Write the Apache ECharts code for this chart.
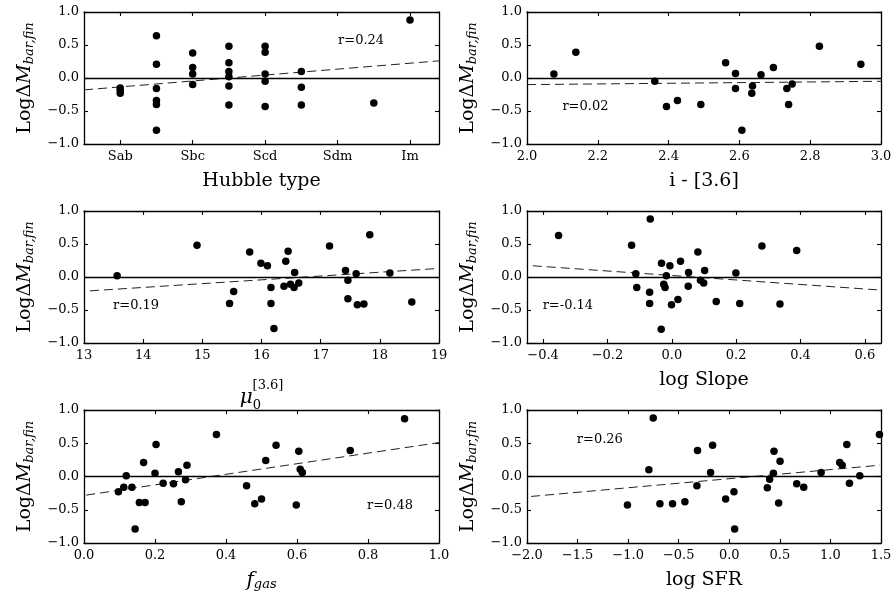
<!DOCTYPE html>
<html><head><meta charset="utf-8">
<script src="https://cdn.jsdelivr.net/npm/echarts@6/dist/echarts.min.js"></script>
<style>html,body{margin:0;padding:0;background:#fff}#c{width:893px;height:597px}</style>
</head><body><div id="c"></div>
<script>
// ---------- DATA ----------
const hubbleTickValues = [2, 4, 6, 8, 10];
const hubbleTickLabels = ['Sab', 'Sbc', 'Scd', 'Sdm', 'Im'];
const hubbleX = [2,2,2, 3,3,3,3,3,3, 4,4,4,4, 5,5,5,5,5,5, 6,6,6,6,6, 7,7,7, 9, 10];
const hubbleY = [-0.15,-0.19,-0.23, 0.64,0.21,-0.16,-0.34,-0.40,-0.79, 0.38,0.16,0.06,-0.10,
                 0.48,0.23,0.10,0.02,-0.12,-0.41, 0.48,0.39,0.06,-0.05,-0.43, 0.10,-0.14,-0.41, -0.38, 0.88];
const hubbleFitX = [1, 10.8];
const hubbleFitY = [-0.18, 0.26];

const colorX = [2.076,2.138,2.361,2.394,2.425,2.491,2.561,2.589,2.589,2.607,2.637,2.635,2.661,2.696,2.734,2.749,2.739,2.826,2.943];
const colorY = [0.06,0.39,-0.05,-0.43,-0.34,-0.40,0.23,0.07,-0.16,-0.79,-0.12,-0.23,0.05,0.16,-0.16,-0.09,-0.40,0.48,0.21];
const colorFitX = [2.0, 3.0];
const colorFitY = [-0.10, -0.05];

const muX = [13.56,14.91,15.46,15.53,15.80,15.99,16.10,16.16,16.16,16.21,16.38,16.41,16.45,16.49,16.55,16.56,16.63,17.15,17.42,17.46,17.46,17.60,17.62,17.73,17.83,18.17,18.54];
const muY = [0.02,0.48,-0.40,-0.22,0.38,0.21,0.17,-0.16,-0.40,-0.78,-0.14,0.24,0.39,-0.11,-0.16,0.07,-0.09,0.47,0.10,-0.33,-0.05,0.05,-0.42,-0.41,0.64,0.06,-0.38];
const muFitX = [13.1, 19.0];
const muFitY = [-0.21, 0.13];

const slopeX = [-0.352,-0.125,-0.067,-0.112,-0.109,-0.069,-0.069,-0.032,-0.033,-0.025,-0.021,-0.017,-0.006,-0.001,0.019,0.027,0.052,0.051,0.081,0.089,0.099,0.102,0.138,0.199,0.211,0.280,0.336,0.388];
const slopeY = [0.63,0.48,0.88,0.05,-0.16,-0.23,-0.40,0.21,-0.79,-0.11,-0.16,0.02,0.17,-0.42,-0.34,0.24,0.07,-0.14,0.38,-0.05,-0.09,0.10,-0.37,0.06,-0.40,0.47,-0.41,0.40];
const slopeFitX = [-0.432, 0.655];
const slopeFitY = [0.17, -0.20];
const slopeTicks = [-0.4, -0.2, 0.0, 0.2, 0.4, 0.6];

const fgasX = [0.097,0.112,0.119,0.135,0.144,0.156,0.168,0.172,0.200,0.203,0.223,0.252,0.266,0.274,0.286,0.290,0.373,0.458,0.481,0.500,0.512,0.541,0.598,0.605,0.609,0.615,0.750,0.903];
const fgasY = [-0.23,-0.16,0.01,-0.16,-0.79,-0.39,0.21,-0.39,0.05,0.48,-0.10,-0.11,0.07,-0.38,-0.05,0.17,0.63,-0.14,-0.41,-0.34,0.24,0.47,-0.43,0.38,0.11,0.06,0.39,0.87];
const fgasFitX = [0.006, 1.0];
const fgasFitY = [-0.28, 0.51];

const sfrX = [-1.007,-0.795,-0.752,-0.686,-0.561,-0.439,-0.320,-0.314,-0.185,-0.165,-0.036,0.046,0.053,0.376,0.399,0.436,0.442,0.488,0.502,0.667,0.736,0.908,1.092,1.116,1.162,1.188,1.290,1.485];
const sfrY = [-0.43,0.10,0.88,-0.41,-0.41,-0.38,-0.14,0.39,0.06,0.47,-0.34,-0.23,-0.79,-0.17,-0.04,0.05,0.38,-0.40,0.23,-0.11,-0.16,0.06,0.21,0.17,0.48,-0.10,0.01,0.63];
const sfrFitX = [-1.96, 1.49];
const sfrFitY = [-0.30, 0.17];

const rLabels = ['r=0.24', 'r=0.02', 'r=0.19', 'r=-0.14', 'r=0.48', 'r=0.26'];
const rPosX = [8.65, 2.165, 13.88, -0.323, 0.862, -1.28];
const rPosY = [0.56, -0.44, -0.44, -0.44, -0.44, 0.56];

const yTickMin = -1, yTickMax = 1, yTickStep = 0.5;

// ---------- BUILD ----------
const FONT = 'DejaVu Serif';
const zip = (a, b) => a.map((v, i) => [v, b[i]]);
const minus = s => String(s).replace('-', '\u2212');

const grids = [
  {left: 84, top: 12, width: 355, height: 132},
  {left: 527, top: 12, width: 354, height: 132},
  {left: 84, top: 211, width: 355, height: 132},
  {left: 527, top: 211, width: 354, height: 132},
  {left: 84, top: 410, width: 355, height: 133},
  {left: 527, top: 410, width: 354, height: 133}
];

const nameRich = {
  mu: {fontFamily: FONT, fontStyle: 'italic', fontSize: 20, lineHeight: 12, verticalAlign: 'top', color: '#000'},
  sub0: {fontFamily: FONT, fontSize: 13, lineHeight: 24, verticalAlign: 'bottom', color: '#000'},
  sup: {fontFamily: FONT, fontSize: 13, lineHeight: 4, color: '#000'},
  sp1: {width: 13, lineHeight: 4},
  sp2: {width: 22, lineHeight: 12},
  f: {fontFamily: FONT, fontStyle: 'italic', fontSize: 20, lineHeight: 20, verticalAlign: 'bottom', color: '#000'},
  sub: {fontFamily: FONT, fontStyle: 'italic', fontSize: 13, lineHeight: 13, verticalAlign: 'bottom', color: '#000'}
};

const xCfg = [
  {min: 1, max: 10.8, custom: hubbleTickValues, fmt: v => hubbleTickLabels[hubbleTickValues.indexOf(v)], name: 'Hubble type'},
  {min: 2, max: 3, interval: 0.2, fmt: v => v.toFixed(1), name: 'i - [3.6]'},
  {min: 13, max: 19, interval: 1, fmt: v => String(v), name: '{sp1|}{sup|[3.6]}\n{mu|\u03bc}{sub0|0}{sp2|}', gap: 41},
  {min: -0.45, max: 0.65, custom: slopeTicks, fmt: v => minus(v.toFixed(1)), name: 'log Slope'},
  {min: 0, max: 1, interval: 0.2, fmt: v => v.toFixed(1), name: '{f|f}{sub|gas}', gap: 28},
  {min: -2, max: 1.5, interval: 0.5, fmt: v => minus(v.toFixed(1)), name: 'log SFR'}
];

const panels = [
  [hubbleX, hubbleY, hubbleFitX, hubbleFitY],
  [colorX, colorY, colorFitX, colorFitY],
  [muX, muY, muFitX, muFitY],
  [slopeX, slopeY, slopeFitX, slopeFitY],
  [fgasX, fgasY, fgasFitX, fgasFitY],
  [sfrX, sfrY, sfrFitX, sfrFitY]
];

const axLine = {show: true, onZero: false, lineStyle: {color: '#000', width: 1.3}};
const tick = {show: true, inside: true, length: 4, lineStyle: {color: '#000', width: 1.1}};
const lblBase = {fontFamily: FONT, fontSize: 13, color: '#000'};

const xAxis = [], yAxis = [], series = [];
panels.forEach((p, i) => {
  const c = xCfg[i];
  const common = {type: 'value', gridIndex: i, min: c.min, max: c.max, splitLine: {show: false}};
  if (c.interval) common.interval = c.interval;
  const bottomTick = Object.assign({}, tick);
  const bottomLbl = Object.assign({}, lblBase, {margin: 6, formatter: c.fmt, showMinLabel: true, showMaxLabel: true, hideOverlap: false});
  if (c.custom) { bottomTick.customValues = c.custom; bottomLbl.customValues = c.custom; }
  xAxis.push(Object.assign({}, common, {
    position: 'bottom', axisLine: axLine, axisTick: bottomTick, axisLabel: bottomLbl,
    name: c.name, nameLocation: 'middle', nameGap: c.gap || 28,
    nameTextStyle: {fontFamily: FONT, fontSize: 19, color: '#000', rich: nameRich}
  }));
  const topTick = Object.assign({}, tick);
  if (c.custom) topTick.customValues = c.custom;
  xAxis.push(Object.assign({}, common, {
    position: 'top', axisLine: axLine, axisTick: topTick, axisLabel: {show: false}
  }));
  const ycommon = {type: 'value', gridIndex: i, min: yTickMin, max: yTickMax, interval: yTickStep, splitLine: {show: false}};
  yAxis.push(Object.assign({}, ycommon, {
    position: 'left', axisLine: axLine, axisTick: tick,
    axisLabel: Object.assign({}, lblBase, {margin: 5, formatter: v => minus(v.toFixed(1))}),
    name: '{a|Log\u0394}{m|M}{s|bar,fin}', nameLocation: 'middle', nameRotate: 90, nameGap: 48,
    nameTextStyle: {
      rich: {
        a: {fontFamily: FONT, fontSize: 19, lineHeight: 22, verticalAlign: 'middle', color: '#000'},
        m: {fontFamily: FONT, fontStyle: 'italic', fontSize: 19, lineHeight: 22, verticalAlign: 'middle', color: '#000'},
        s: {fontFamily: FONT, fontStyle: 'italic', fontSize: 13, lineHeight: 12, verticalAlign: 'bottom', color: '#000'}
      }
    }
  }));
  yAxis.push(Object.assign({}, ycommon, {
    position: 'right', axisLine: axLine, axisTick: tick, axisLabel: {show: false}
  }));

  series.push({
    type: 'scatter', xAxisIndex: 2 * i, yAxisIndex: 2 * i,
    data: zip(p[0], p[1]), symbol: 'circle', symbolSize: 7.5,
    itemStyle: {color: '#000', opacity: 1}, z: 5,
    markLine: {silent: true, symbol: ['none', 'none'], label: {show: false},
      lineStyle: {color: '#000', type: 'solid', width: 1.3}, data: [{yAxis: 0}]},
    markPoint: {silent: true, symbol: 'circle', symbolSize: 1, itemStyle: {color: 'rgba(0,0,0,0)'},
      label: {show: true, position: 'inside', formatter: rLabels[i], fontFamily: FONT, fontSize: 13, color: '#000'},
      data: [{coord: [rPosX[i], rPosY[i]]}]}
  });
  series.push({
    type: 'line', xAxisIndex: 2 * i, yAxisIndex: 2 * i,
    data: zip(p[2], p[3]), symbol: 'none', silent: true,
    lineStyle: {color: '#222', width: 1, type: [9, 5]}, z: 3
  });
});

const chart = echarts.init(document.getElementById('c'), null, {renderer: 'canvas'});
chart.setOption({
  animation: false,
  backgroundColor: '#fff',
  grid: grids.map(g => Object.assign({containLabel: false, outerBoundsMode: 'none'}, g)),
  xAxis, yAxis, series
});
</script></body></html>
